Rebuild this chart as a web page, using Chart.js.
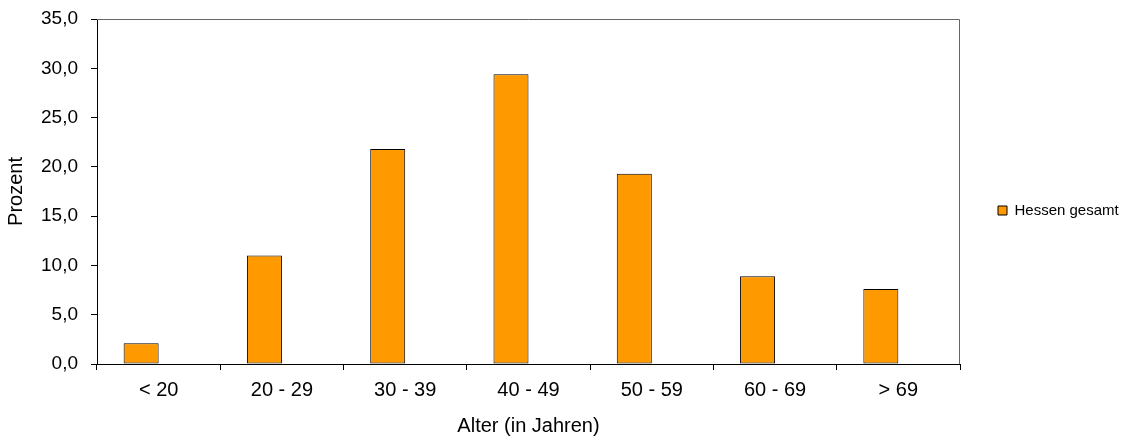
<!DOCTYPE html>
<html>
<head>
<meta charset="utf-8">
<script src="https://cdn.jsdelivr.net/npm/chart.js@4/dist/chart.umd.min.js"></script>
<style>
html,body{margin:0;padding:0;background:#fff;}
canvas{display:block;}
</style>
</head>
<body>
<canvas id="c" width="1125" height="439"></canvas>
<script>
const categories = ['< 20', '20 - 29', '30 - 39', '40 - 49', '50 - 59', '60 - 69', '> 69'];
const hessenGesamt = [2.1, 11.0, 21.8, 29.4, 19.3, 8.9, 7.6];
const emptySeries = [null, null, null, null, null, null, null];
const yMin = 0, yMax = 35, yStep = 5;
const seriesLabel = 'Hessen gesamt';
const xTitle = 'Alter (in Jahren)';
const yTitle = 'Prozent';

const FONT = 'Liberation Sans, Arial, sans-serif';

const legendPatch = {
  id: 'legendPatch',
  beforeLayout(chart) {
    const lg = chart.legend;
    if (lg && !lg._patched) {
      const orig = lg.fit.bind(lg);
      lg.fit = function () { orig(); this.width = 165; };
      lg._patched = true;
    }
  },
  afterLayout(chart) {
    const lg = chart.legend;
    if (lg) {
      lg.left += 28; lg.right += 28;
      lg.top = 0; lg.bottom = 421;
    }
  }
};

const frame = {
  id: 'frame',
  afterDatasetsDraw(chart) {
    const {ctx, chartArea: a} = chart;
    ctx.save();
    ctx.strokeStyle = '#666';
    ctx.lineWidth = 1;
    ctx.beginPath();
    ctx.moveTo(a.left, Math.round(a.top) + 0.5);
    ctx.lineTo(Math.round(a.right) - 0.5, Math.round(a.top) + 0.5);
    ctx.lineTo(Math.round(a.right) - 0.5, a.bottom);
    ctx.stroke();
    ctx.restore();
  }
};

new Chart(document.getElementById('c'), {
  type: 'bar',
  data: {
    labels: categories,
    datasets: [
      {
        label: seriesLabel,
        data: hessenGesamt,
        backgroundColor: '#FF9900',
        borderColor: '#000000',
        borderWidth: 1,
        borderSkipped: false,
        categoryPercentage: 0.568,
        barPercentage: 1.0
      },
      {
        label: '',
        data: emptySeries,
        backgroundColor: '#FFFFFF',
        categoryPercentage: 0.568,
        barPercentage: 1.0
      }
    ]
  },
  options: {
    responsive: false,
    animation: false,
    devicePixelRatio: 1,
    layout: { autoPadding: false, padding: { top: 19, left: 0, right: 0, bottom: 0 } },
    plugins: {
      tooltip: { enabled: false },
      legend: {
        position: 'right',
        labels: {
          boxWidth: 9,
          boxHeight: 9,
          padding: 10,
          color: '#000',
          font: { family: FONT, size: 15 },
          filter: (item) => item.datasetIndex === 0
        }
      }
    },
    scales: {
      x: {
        grid: { display: true, drawOnChartArea: false, drawTicks: true, tickLength: 6, color: '#000', offset: true },
        border: { display: true, color: '#000', width: 1 },
        ticks: { color: '#000', font: { family: FONT, size: 20 }, padding: 8, maxRotation: 0, autoSkip: false },
        title: { display: true, text: xTitle, color: '#000', font: { family: FONT, size: 20 }, padding: { top: 0, bottom: 1 } },
        afterFit(s) { s.height = 75; s.paddingLeft = 0; s.paddingRight = 0; }
      },
      y: {
        min: yMin,
        max: yMax,
        grid: { display: true, drawOnChartArea: false, drawTicks: true, tickLength: 6, color: '#000' },
        border: { display: true, color: '#000', width: 1 },
        ticks: {
          stepSize: yStep,
          color: '#000',
          font: { family: FONT, size: 19 },
          padding: 13,
          callback: (v) => Number(v).toFixed(1).replace('.', ',')
        },
        title: { display: true, text: yTitle, color: '#000', font: { family: FONT, size: 20 }, padding: { top: 4, bottom: 0 } },
        afterFit(s) { s.width = 97; s.paddingTop = 0; s.paddingBottom = 0; }
      }
    }
  },
  plugins: [legendPatch, frame]
});
</script>
</body>
</html>
